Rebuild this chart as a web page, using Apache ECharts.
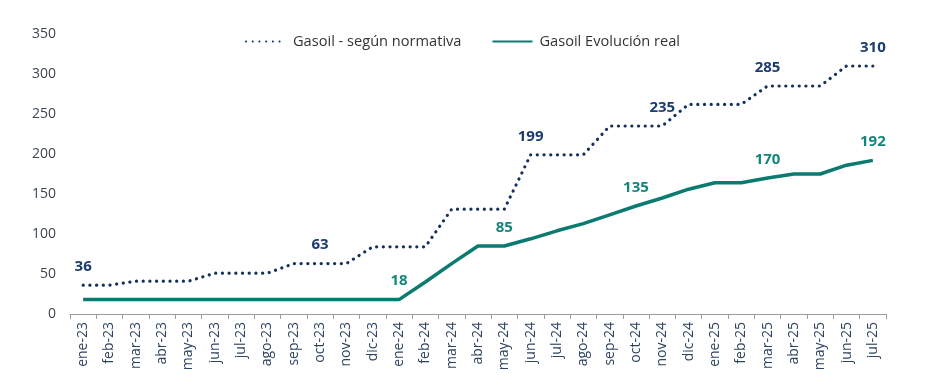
<!DOCTYPE html>
<html>
<head>
<meta charset="utf-8">
<script src="https://cdn.jsdelivr.net/npm/echarts@6/dist/echarts.min.js"></script>
<style>
html,body{margin:0;padding:0;background:#fff;}
#chart{width:939px;height:390px;}
</style>
</head>
<body>
<div id="chart"></div>
<script>
var categories = ['ene-23','feb-23','mar-23','abr-23','may-23','jun-23','jul-23','ago-23','sep-23','oct-23','nov-23','dic-23',
  'ene-24','feb-24','mar-24','abr-24','may-24','jun-24','jul-24','ago-24','sep-24','oct-24','nov-24','dic-24',
  'ene-25','feb-25','mar-25','abr-25','may-25','jun-25','jul-25'];
var normativa = [36,36,41,41,41,51,51,51,63,63,63,84,84,84,131,131,131,199,199,199,235,235,235,262,262,262,285,285,285,310,310];
var real = [18,18,18,18,18,18,18,18,18,18,18,18,18,40,63,85,85,94,104,113,124,135,145,156,164,164,170,175,175,186,192];
var normLabelIdx = [0,9,17,22,26,30];
var realLabelIdx = [12,16,21,26,30];
var yTicks = {min:0, max:350, interval:50};

var navy = '#16305e';
var teal = '#0b7a70';

function build(values, idx, color){
  return values.map(function(v,i){
    if (idx.indexOf(i) >= 0) {
      return {value:v, label:{show:true, position:'top', distance:11, color:color, fontWeight:'bold', fontSize:15, fontFamily:'Open Sans'}};
    }
    return v;
  });
}

var chart = echarts.init(document.getElementById('chart'));
chart.setOption({
  animation:false,
  backgroundColor:'#fff',
  textStyle:{fontFamily:'Open Sans'},
  grid:{left:70, right:53, top:34, bottom:76, containLabel:false},
  legend:{
    left:240, top:29, itemWidth:40, itemHeight:10, itemGap:30,
    itemStyle:{opacity:0},
    textStyle:{fontSize:14.6, color:'#333', fontFamily:'Open Sans', padding:[0,0,0,2]},
    data:['Gasoil - según normativa','Gasoil Evolución real']
  },
  xAxis:{
    type:'category', data:categories, boundaryGap:true,
    axisLine:{lineStyle:{color:'#9a9a9a', width:1.2}},
    axisTick:{show:true, length:5, lineStyle:{color:'#9a9a9a'}},
    axisLabel:{rotate:90, fontSize:14, color:'#2e4460', margin:8, interval:0, fontFamily:'Open Sans'}
  },
  yAxis:{
    type:'value', min:yTicks.min, max:yTicks.max, interval:yTicks.interval,
    axisLine:{show:false}, axisTick:{show:false}, splitLine:{show:false},
    axisLabel:{fontSize:14, color:'#3c4652', margin:14, fontFamily:'Open Sans'}
  },
  series:[
    {
      name:'Gasoil - según normativa', type:'line', symbol:'circle', symbolSize:0.1, showSymbol:true,
      data: build(normativa, normLabelIdx, '#1a3c6e'),
      lineStyle:{color:navy, width:3.2, type:[0.1,6.6], cap:'round'},
      itemStyle:{color:navy}
    },
    {
      name:'Gasoil Evolución real', type:'line', symbol:'circle', symbolSize:0.1, showSymbol:true,
      data: build(real, realLabelIdx, '#12877c'),
      lineStyle:{color:teal, width:3.5},
      itemStyle:{color:teal}
    }
  ]
});
</script>
</body>
</html>
